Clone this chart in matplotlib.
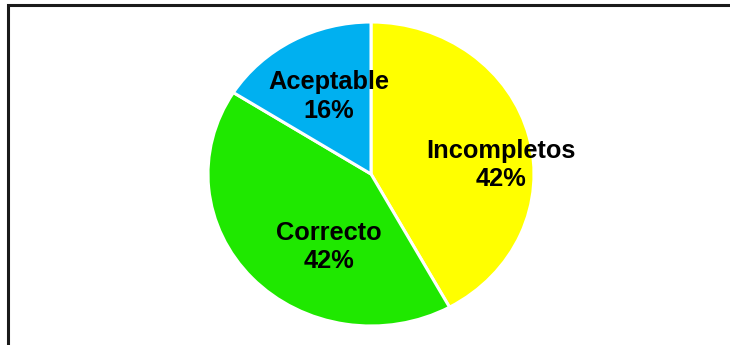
import matplotlib.pyplot as plt
from matplotlib.patches import Rectangle

# datos del gráfico
categorias = ['Incompletos', 'Correcto', 'Aceptable']
porcentajes = [42, 42, 16]
colores = ['#FFFF00', '#1FE800', '#00B0F0']

# posición de cada etiqueta dentro del pastel (coordenadas normalizadas)
pos_etiquetas = [(0.80, 0.06), (-0.26, -0.48), (-0.26, 0.51)]

W, H = 730, 345
fig = plt.figure(figsize=(W / 100, H / 100), dpi=100)

# marco negro (solo se ven los bordes superior e izquierdo)
fig.patches.append(Rectangle((8 / W, -0.1), 1.2, (H - 5) / H + 0.1,
                             transform=fig.transFigure, fill=False,
                             edgecolor='#1a1a1a', linewidth=2.2))

# ejes ajustados al óvalo del pastel
cx, cy, rx, ry = 371, 174, 163, 152
ax = fig.add_axes([(cx - rx) / W, (H - cy - ry) / H, 2 * rx / W, 2 * ry / H])

ax.pie(porcentajes, colors=colores, startangle=90, counterclock=False,
       wedgeprops=dict(edgecolor='white', linewidth=2.2))
ax.set_aspect('auto')
ax.set_xlim(-1, 1)
ax.set_ylim(-1, 1)

for nombre, valor, (x, y) in zip(categorias, porcentajes, pos_etiquetas):
    ax.text(x, y, f'{nombre}\n{valor}%', ha='center', va='center',
            fontsize=18.3, fontweight='bold', family='Liberation Sans',
            linespacing=1.22)

fig.savefig('out.png', dpi=100, facecolor='white')
